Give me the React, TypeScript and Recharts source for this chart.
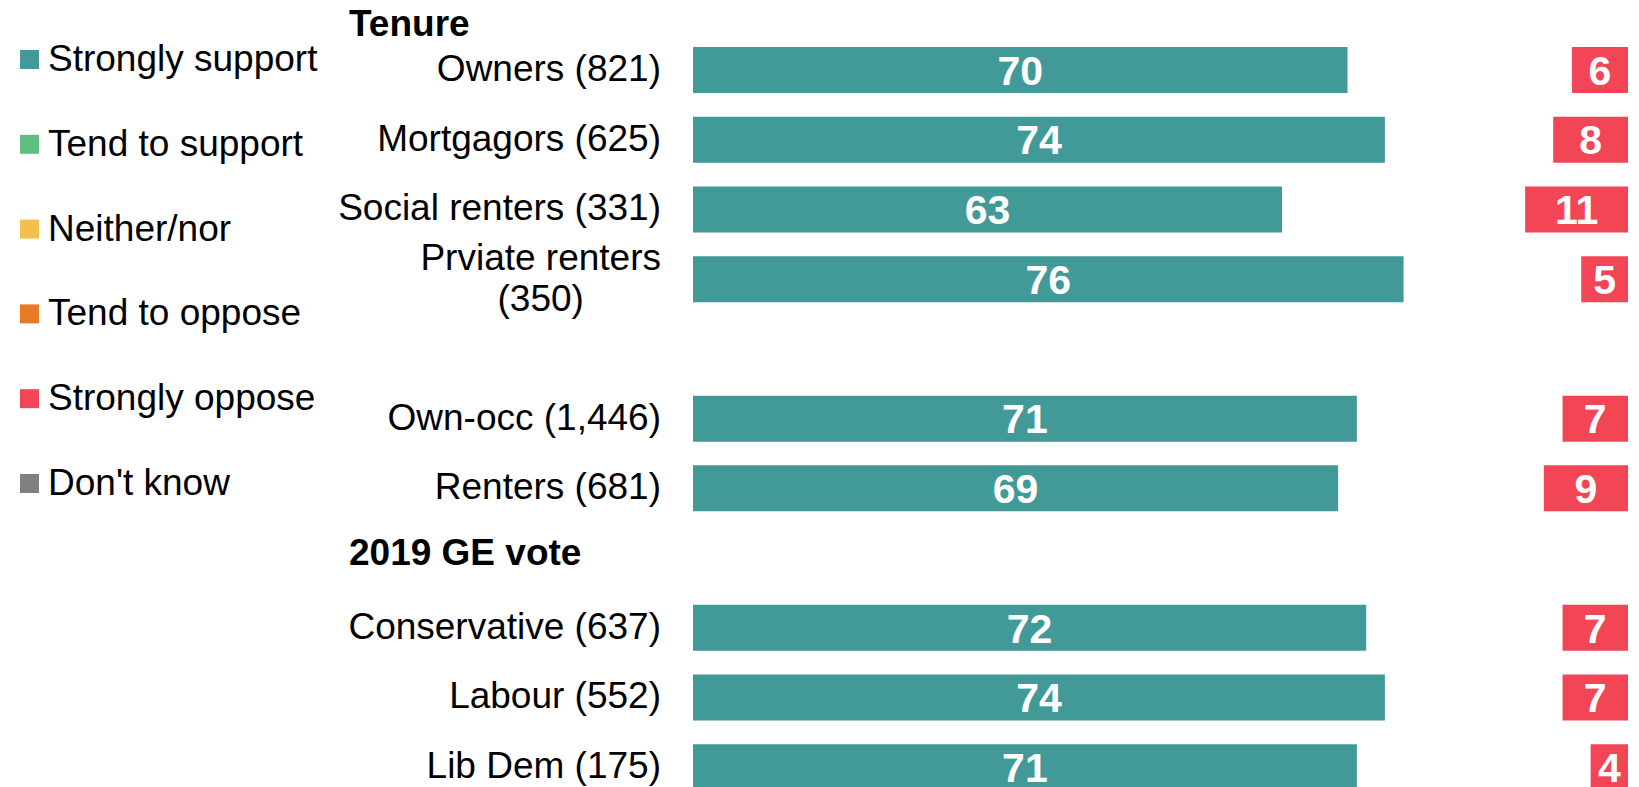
import { Bar, BarChart, LabelList, XAxis, YAxis } from "recharts";

const rows = [
  "Owners (821)",
  "Mortgagors (625)",
  "Social renters (331)",
  "Prviate renters\n(350)",
  "",
  "Own-occ (1,446)",
  "Renters (681)",
  "2019 GE vote",
  "Conservative (637)",
  "Labour (552)",
  "Lib Dem (175)",
];
const stronglySupport = [70, 74, 63, 76, null, 71, 69, null, 72, 74, 71];
const stronglyOppose = [6, 8, 11, 5, null, 7, 9, null, 7, 7, 4];
const sectionHeads = ["2019 GE vote"];

const legendItems = [
  { name: "Strongly support", color: "#429a98" },
  { name: "Tend to support", color: "#5fbe82" },
  { name: "Neither/nor", color: "#f1c04d" },
  { name: "Tend to oppose", color: "#e87a26" },
  { name: "Strongly oppose", color: "#f24657" },
  { name: "Don't know", color: "#808080" },
];

const FONT = '"Liberation Sans", Arial, sans-serif';
const TEAL = "#429a98";
const RED = "#f24657";

const data = rows.map((label, i) => ({
  label,
  ss: stronglySupport[i],
  so: stronglyOppose[i],
}));

let ctx: CanvasRenderingContext2D | null = null;
function textWidth(s: string) {
  if (!ctx) ctx = document.createElement("canvas").getContext("2d");
  if (!ctx) return s.length * 18;
  ctx.font = `37px ${FONT}`;
  return ctx.measureText(s).width;
}

function RowLabel({ x, y, payload }: any) {
  const value: string = payload?.value ?? "";
  if (!value) return null;
  if (sectionHeads.includes(value)) {
    return (
      <text x={349} y={y + 7} fontSize={37} fontWeight="bold" fill="#000" fontFamily={FONT}>
        {value}
      </text>
    );
  }
  const lines = value.split("\n");
  if (lines.length === 1) {
    return (
      <text x={x} y={y + 11} textAnchor="end" fontSize={37} fill="#000" fontFamily={FONT}>
        {value}
      </text>
    );
  }
  const w = Math.max(...lines.map(textWidth));
  const cx = x - w / 2;
  const first = y + 11 - (20.5 * (lines.length - 1));
  return (
    <text textAnchor="middle" fontSize={37} fill="#000" fontFamily={FONT}>
      {lines.map((l, i) => (
        <tspan key={i} x={cx} y={first + i * 41}>
          {l}
        </tspan>
      ))}
    </text>
  );
}

function BarValue({ x, y, width, height, value }: any) {
  if (value == null) return null;
  return (
    <text
      x={x + width / 2}
      y={y + height / 2 + 14.7}
      textAnchor="middle"
      fontSize={41}
      fontWeight="bold"
      fill="#fff"
      fontFamily={FONT}
    >
      {value}
    </text>
  );
}

export default function App() {
  return (
    <div
      style={{
        position: "absolute",
        left: 0,
        top: 0,
        width: 1639,
        height: 787,
        overflow: "hidden",
        background: "#fff",
        fontFamily: FONT,
      }}
    >
      <BarChart
        width={1639}
        height={802}
        data={data}
        layout="vertical"
        margin={{ top: 35, right: 11, bottom: 0, left: 0 }}
      >
        <XAxis xAxisId="l" type="number" domain={[0, 100]} hide />
        <XAxis xAxisId="r" type="number" domain={[0, 100]} reversed hide />
        <YAxis
          yAxisId="l"
          type="category"
          dataKey="label"
          width={693}
          axisLine={false}
          tickLine={false}
          tickSize={0}
          tickMargin={32}
          interval={0}
          tick={RowLabel}
        />
        <YAxis yAxisId="r" type="category" dataKey="label" hide />
        <Bar
          dataKey="ss"
          xAxisId="l"
          yAxisId="l"
          name="Strongly support"
          fill={TEAL}
          barSize={46}
          isAnimationActive={false}
        >
          <LabelList dataKey="ss" content={BarValue} />
        </Bar>
        <Bar
          dataKey="so"
          xAxisId="r"
          yAxisId="r"
          name="Strongly oppose"
          fill={RED}
          barSize={46}
          isAnimationActive={false}
        >
          <LabelList dataKey="so" content={BarValue} />
        </Bar>
      </BarChart>

      <svg
        width={1639}
        height={787}
        style={{ position: "absolute", left: 0, top: 0, pointerEvents: "none" }}
      >
        <text x={349} y={36} fontSize={37} fontWeight="bold" fill="#000" fontFamily={FONT}>
          Tenure
        </text>
        {legendItems.map((item, i) => {
          const cy = 59.5 + i * 84.8;
          return (
            <g key={item.name}>
              <rect x={20} y={cy - 9.5} width={19} height={19} fill={item.color} />
              <text x={48} y={cy + 11.5} fontSize={37} fill="#000" fontFamily={FONT}>
                {item.name}
              </text>
            </g>
          );
        })}
      </svg>
    </div>
  );
}
